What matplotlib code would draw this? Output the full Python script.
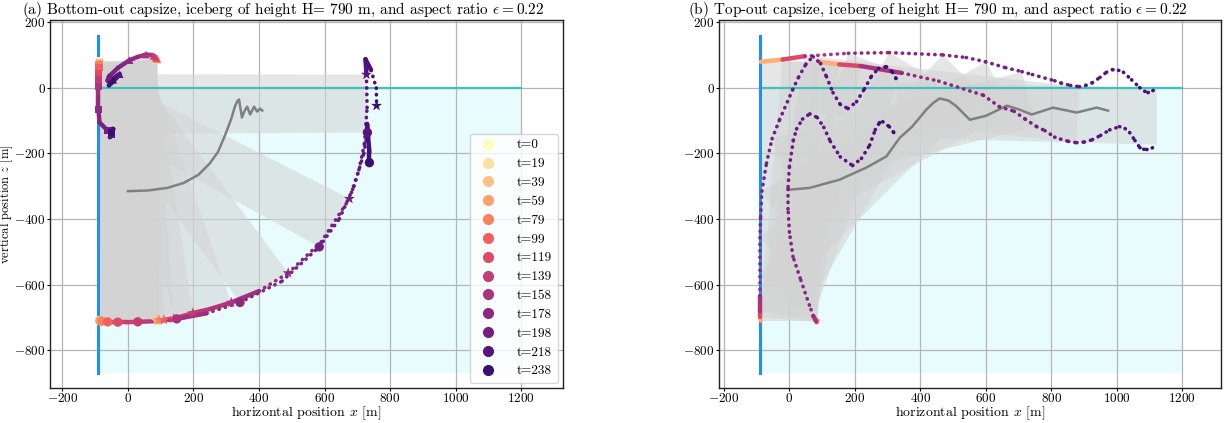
import numpy as np
import matplotlib
matplotlib.use("Agg")
import matplotlib.pyplot as plt
from matplotlib.collections import LineCollection
from matplotlib.patches import Polygon, Rectangle
from matplotlib.lines import Line2D

plt.rcParams['font.family'] = 'serif'
plt.rcParams['font.serif'] = ['cmr10']
plt.rcParams['mathtext.fontset'] = 'cm'
plt.rcParams['axes.formatter.use_mathtext'] = True

# domain
wall_x = -90
wall_top = 160
sea_bottom = -870
domain_right = 1200

# ---------------- (a) bottom-out capsize ----------------
t_a = [0, 19, 39, 59, 79, 99, 109, 119, 129, 139, 148, 158, 168, 178, 188, 198,
       203, 208, 213, 218, 223, 228, 233, 238]
label_times = [0, 19, 39, 59, 79, 99, 119, 139, 158, 178, 198, 218, 238]

# top-left corner (squares)
tl_a_x = [-87, -87, -87, -87, -88, -88, -88, -89, -89, -90, -90, -90, -90, -90, -87, -62,
          -52, -48, -48, -50, -55, -50, -45, -50]
tl_a_z = [82, 80, 78, 75, 70, 62, 55, 45, 36, 25, 15, 4, -30, -66, -105, -130,
          -133, -128, -125, -140, -150, -140, -125, -135]
# top-right corner (triangles)
tr_a_x = [90, 90, 90, 89, 89, 88, 87, 85, 82, 78, 70, 55, 30, 5, -30, -58,
          -62, -50, -30, -25, -45, -58, -50, -45]
tr_a_z = [85, 86, 87, 88, 89, 90, 91, 93, 96, 98, 101, 102, 95, 85, 62, 35,
          22, 25, 40, 42, 20, 8, 20, 25]
# bottom-left corner (circles)
bl_a_x = [-87, -87, -86, -85, -80, -62, -48, -31, -5, 30, 85, 149, 240, 342, 470, 584,
          645, 690, 720, 731, 730, 733, 737, 737]
bl_a_z = [-710, -710, -710, -711, -712, -714, -715, -715, -715, -714, -712, -705, -688, -655, -590, -485,
          -400, -300, -200, -136, -110, -150, -195, -228]
# bottom-right corner (stars)
br_a_x = [87, 87, 88, 90, 95, 110, 122, 140, 165, 198, 250, 315, 400, 489, 590, 676,
          705, 722, 730, 728, 725, 742, 758, 759]
br_a_z = [-710, -710, -710, -709, -709, -708, -706, -704, -697, -687, -675, -655, -620, -565, -470, -338,
          -250, -170, -60, 41, 88, 55, 0, -54]
snap_a_times = [0, 19, 39, 59, 79, 99, 119, 139, 158, 178, 198, 218]

# centre-of-mass track
cm_a_x = [0, 60, 120, 170, 215, 250, 275, 298, 315, 327, 334, 339, 348, 356, 364, 373, 385, 394, 403, 410]
cm_a_z = [-315, -313, -305, -290, -265, -230, -195, -140, -95, -55, -40, -35, -90, -70, -57, -81, -57, -72, -63, -69]

# ---------------- (b) top-out capsize ----------------
t_b = [0, 100, 140, 172, 178, 183, 186, 189, 192, 195, 198, 201,
       204, 206, 208, 210, 212, 214, 216, 218, 221, 224, 227, 230, 232, 234, 236, 238]
bl_b_x = [-87, -90, -90, -90, -90, -90, -88, -84, -70, -53, -30, 10, 28, 50, 72, 95, 113, 133, 155,
          179, 205, 229, 250, 272, 296, 315, 325, 330]
bl_b_z = [-710, -700, -681, -636, -576, -458, -393, -315, -230, -155, -97, -5, 33, 72, 96, 75, 35, -14, -50,
          -63, -42, -3, 35, 60, 65, 48, 30, 17]
br_b_x = [87, 83, 81, 73, 61, 33, 11, 0, -4, -4, 0, 12, 22, 40, 62, 85, 105, 125, 155,
          193, 220, 245, 262, 275, 285, 305, 318, 327]
br_b_z = [-710, -715, -711, -696, -663, -581, -515, -440, -370, -302, -240, -160, -125, -95, -79, -90, -120, -163, -210,
          -237, -215, -175, -128, -106, -103, -118, -135, -152]
tl_b_x = [-87, -21, 47, 180, 305, 469, 540, 599, 660, 710, 742, 810, 830, 858, 885, 905, 925, 948, 968,
          987, 1005, 1020, 1045, 1070, 1085, 1095, 1110, 1122]
tl_b_z = [80, 87, 97, 106, 108, 101, 93, 80, 62, 50, 41, 22, 15, 8, 4, 8, 16, 32, 48,
          56, 54, 48, 25, 1, -10, -14, -8, 1]
tr_b_x = [87, 152, 218, 343, 456, 592, 641, 686, 720, 755, 780, 810, 828, 852, 877, 900, 925, 950, 978,
          1008, 1025, 1039, 1055, 1070, 1082, 1091, 1108, 1122]
tr_b_z = [80, 72, 67, 46, 21, -22, -57, -71, -95, -118, -130, -150, -156, -163, -167, -165, -158, -145, -128,
          -118, -124, -136, -160, -182, -187, -188, -183, -173]
snap_b = [0, 1, 2, 3, 4, 5, 7, 9, 14, 27]

cm_b_x = [-4, 62, 153, 235, 296, 337, 375, 418, 440, 459, 485, 510, 551, 600, 664, 700, 740, 805, 877, 938, 973]
cm_b_z = [-311, -305, -280, -243, -209, -152, -118, -66, -45, -32, -38, -56, -97, -85, -54, -65, -81, -60, -75, -60, -69]

T_END = 238


def tcolor(t):
    return plt.cm.magma(1 - 0.8 * np.asarray(t, dtype=float) / T_END)


def draw_path(ax, xs, zs, ts, slow):
    pts = np.column_stack([xs, zs]).astype(float)
    segs = np.stack([pts[:-1], pts[1:]], axis=1)
    ts = np.asarray(ts, dtype=float)
    speed = np.hypot(*(pts[1:] - pts[:-1]).T) / np.diff(ts)
    styles = ['solid' if v < slow else (0, (0.1, 1.7)) for v in speed]
    widths = [3.2 if v < slow else 2.6 for v in speed]
    seg_t = (ts[:-1] + ts[1:]) / 2
    lc = LineCollection(segs, colors=tcolor(seg_t), linestyles=styles,
                        linewidths=widths, capstyle='round', zorder=3)
    ax.add_collection(lc)


def draw_snapshots(ax, corners, idx):
    for i in idx:
        poly = [(c[0][i], c[1][i]) for c in corners]
        ax.add_patch(Polygon(poly, closed=True, facecolor='#d3d3d3', alpha=0.55,
                             lw=0, zorder=1))


def draw_domain(ax):
    ax.add_patch(Rectangle((wall_x, sea_bottom), domain_right - wall_x, -sea_bottom,
                           facecolor='#e8fbfd', edgecolor='none', zorder=0.2))
    ax.plot([wall_x, domain_right], [0, 0], color='#3fc1c0', lw=1.6, zorder=2.5)
    ax.plot([wall_x, wall_x], [sea_bottom, wall_top], color='#1f8ff0', lw=2.2, zorder=2.5)


fig = plt.figure(figsize=(12.27, 4.23), dpi=100)
ax1 = fig.add_axes([50 / 1227, 35 / 423, 513 / 1227, 368 / 423])
ax2 = fig.add_axes([719 / 1227, 35 / 423, 502 / 1227, 368 / 423])

# panel (a)
draw_domain(ax1)
corners_a = [(tl_a_x, tl_a_z), (tr_a_x, tr_a_z), (br_a_x, br_a_z), (bl_a_x, bl_a_z)]
draw_snapshots(ax1, corners_a, [t_a.index(t) for t in snap_a_times])
ax1.plot(cm_a_x, cm_a_z, color='#808080', lw=1.8, zorder=2)
lab_idx = [t_a.index(t) for t in label_times]
for (xs, zs), mk, ms in zip(corners_a, ['s', '^', '*', 'o'], [28, 30, 70, 45]):
    draw_path(ax1, xs, zs, t_a, slow=10)
    ax1.scatter([xs[i] for i in lab_idx], [zs[i] for i in lab_idx], c=tcolor(label_times),
                marker=mk, s=ms, lw=0, zorder=4)

handles = [Line2D([], [], marker='o', ls='none', color=tcolor(t), markersize=7) for t in label_times]
ax1.legend(handles, [f't={t}' for t in label_times], loc='lower right', fontsize=9.5,
           framealpha=0.8, edgecolor='#cccccc', handletextpad=1.2, borderaxespad=0.4)

# panel (b)
draw_domain(ax2)
corners_b = [(tl_b_x, tl_b_z), (tr_b_x, tr_b_z), (br_b_x, br_b_z), (bl_b_x, bl_b_z)]
draw_snapshots(ax2, corners_b, snap_b)
ax2.plot(cm_b_x, cm_b_z, color='#808080', lw=1.8, zorder=2)
for xs, zs in corners_b:
    draw_path(ax2, xs, zs, t_b, slow=4)

for ax in (ax1, ax2):
    ax.set_xticks([-200, 0, 200, 400, 600, 800, 1000, 1200])
    ax.set_yticks([-800, -600, -400, -200, 0, 200])
    ax.set_axisbelow(True)
    ax.grid(True, color='#b5b5b5', lw=0.9)
    ax.tick_params(labelsize=9.5, length=2, width=0.8, pad=1.2)
    ax.set_xlabel('horizontal position $x$ [m]', fontsize=10)
    ax.xaxis.set_label_coords(0.5, -0.044)
    for s in ax.spines.values():
        s.set_linewidth(1.0)
        s.set_color('#222222')

ax1.set_xlim(-238, 1328)
ax2.set_xlim(-215, 1318)
ax1.set_ylim(-916, 207.6)
ax2.set_ylim(-916, 207.6)
ax1.set_ylabel('vertical position $z$ [m]', fontsize=9)
ax1.yaxis.set_label_coords(-0.068, 0.5)

ax1.text(0.454, 1.017, r'(a) Bottom-out capsize, iceberg of height H= 790 m, and aspect ratio $\epsilon = 0.22$',
         transform=ax1.transAxes, ha='center', va='baseline', fontsize=11)
ax2.text(0.436, 1.017, r'(b) Top-out capsize, iceberg of height H= 790 m, and aspect ratio $\epsilon = 0.22$',
         transform=ax2.transAxes, ha='center', va='baseline', fontsize=11)

fig.savefig('out.png', dpi=100)
